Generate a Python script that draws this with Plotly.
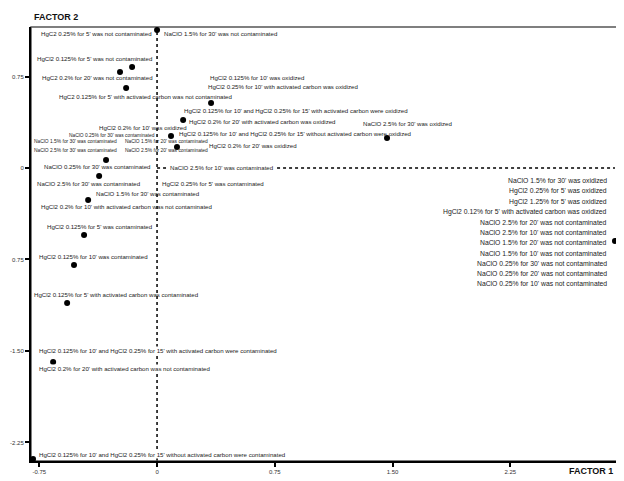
import plotly.graph_objects as go

# ---- data (factor scores) ----
factor1 = [0.0, -0.159, -0.236, -0.197, 0.344, 0.166, 0.089, 0.127, 1.465,
           -0.325, -0.369, -0.439, -0.465, -0.529, -0.573, -0.662, -0.79, 2.917]
factor2 = [1.131, 0.828, 0.787, 0.656, 0.533, 0.393, 0.262, 0.172, 0.246,
           0.066, -0.066, -0.262, -0.549, -0.795, -1.107, -1.59, -2.385, -0.598]

x_tickvals = [-0.75, 0, 0.75, 1.5, 2.25]
x_ticktext = ["-0.75", "0", "0.75", "1.50", "2.25"]
y_tickvals = [0.75, 0, -0.75, -1.5, -2.25]
y_ticktext = ["0.75", "0", "0.75", "-1.50", "-2.25"]

right_group = [
    "NaClO 1.5% for 30' was oxidized",
    "HgCl2 0.25% for 5' was oxidized",
    "HgCl2 1.25% for 5' was oxidized",
    "HgCl2 0.12% for 5' with activated carbon was oxidized",
    "NaClO 2.5% for 20' was not contaminated",
    "NaClO 2.5% for 10' was not contaminated",
    "NaClO 1.5% for 20' was not contaminated",
    "NaClO 1.5% for 10' was not contaminated",
    "NaClO 0.25% for 30' was not contaminated",
    "NaClO 0.25% for 20' was not contaminated",
    "NaClO 0.25% for 10' was not contaminated",
]

# labels: (point index or None for origin, text, xanchor, dx px, dy px (down), small, white-bg pad or None)
labels = [
    (0, "HgC2 0.25% for 5' was not contaminated", "right", -3, 3, False, None),
    (0, "NaClO 1.5% for 30' was not contaminated", "left", 5, 3, False, None),
    (1, "HgCl2 0.125% for 5' was not contaminated", "right", 22, -9, False, None),
    (2, "HgC2 0.2% for 20' was not contaminated", "right", 35, 5, False, None),
    (3, "HgC2 0.125% for 5' with activated carbon was not contaminated", "left", -69, 9, False, None),
    (4, "HgCl2 0.125% for 10' was oxidized", "left", -3, -25, False, None),
    (4, "HgCl2 0.25% for 10' with activated carbon was oxidized", "left", -5, -16, False, None),
    (4, "HgCl2 0.125% for 10' and HgCl2 0.25% for 15' with activated carbon were oxidized", "left", -29, 8, False, None),
    (5, "HgCl2 0.2% for 20' with activated carbon was oxidized", "left", 4, 1, False, None),
    (5, "HgCl2 0.2% for 10' was oxidized", "left", -86, 7, False, None),
    (6, "HgCl2 0.125% for 10' and HgCl2 0.25% for 15' without activated carbon were oxidized", "left", 6, -3, False, None),
    (7, "HgCl2 0.2% for 20' was oxidized", "left", 30, -2, False, None),
    (8, "NaClO 2.5% for 30' was oxidized", "left", -26, -15, False, None),
    (9, "NaClO 0.25% for 30' was contaminated", "left", -64, 7, False, None),
    (None, "NaClO 2.5% for 10' was contaminated", "left", 9, -1, False, 3),
    (None, "HgCl2 0.25% for 5' was contaminated", "left", 3, 15, False, None),
    (None, "NaClO 0.25% for 30' was contaminated", "right", 0, -33, True, None),
    (None, "NaClO 1.5% for 30' was contaminated", "left", -125, -27, True, None),
    (None, "NaClO 2.5% for 30' was contaminated", "left", -125, -18, True, None),
    (None, "NaClO 1.5% for 20' was contaminated", "left", -34, -27, True, None),
    (None, "NaClO 2.5% for 20' was contaminated", "left", -34, -18, True, None),
    (10, "NaClO 2.5% for 30' was contaminated", "left", -64, 7, False, None),
    (11, "NaClO 1.5% for 30' was contaminated", "left", 6, -6, False, None),
    (11, "HgCl2 0.2% for 10' with activated carbon was not contaminated", "left", -49, 7, False, None),
    (12, "HgCl2 0.125% for 5' was contaminated", "left", -39, -8, False, None),
    (13, "HgCl2 0.125% for 10' was contaminated", "left", -37, -8, False, None),
    (14, "HgCl2 0.125% for 5' with activated carbon was contaminated", "left", -35, -9, False, None),
    (15, "HgCl2 0.125% for 10' and HgCl2 0.25% for 15' with activated carbon were contaminated", "left", -15, -11, False, 0),
    (15, "HgCl2 0.2% for 20' with activated carbon was not contaminated", "left", -15, 7, False, 0),
    (16, "HgCl2 0.125% for 10' and HgCl2 0.25% for 15' without activated carbon were contaminated", "left", 5, -4, False, 0),
]

FONT = "Liberation Sans, Arial, sans-serif"
TXT = "#222222"

fig = go.Figure()
fig.add_trace(go.Scatter(
    x=factor1, y=factor2, mode="markers",
    marker=dict(color="black", size=6),
    cliponaxis=False, showlegend=False, hoverinfo="skip",
))

# reference dashed lines through the origin
fig.add_shape(type="line", xref="x", yref="paper", x0=0, x1=0, y0=0, y1=1,
              line=dict(color="black", width=1.5, dash="dot"), layer="below")
fig.add_shape(type="line", xref="x", yref="y", x0=0, x1=max(factor1), y0=0, y1=0,
              line=dict(color="black", width=1.5, dash="dot"), layer="below")
# thin frame top/right
fig.add_shape(type="rect", xref="paper", yref="paper", x0=0, x1=1, y0=0, y1=1,
              line=dict(color="#555555", width=1.5), layer="below")

anns = []
for idx, text, anchor, dx, dy, small, pad in labels:
    if idx is None:
        ax, ay = 0, 0
    else:
        ax, ay = factor1[idx], factor2[idx]
    anns.append(dict(
        x=ax, y=ay, xref="x", yref="y", text=text, showarrow=False,
        xanchor=anchor, yanchor="middle", xshift=dx, yshift=-dy,
        font=dict(family=FONT, size=4.9 if small else 6.1, color=TXT),
        bgcolor="white" if pad is not None else "rgba(0,0,0,0)",
        borderpad=pad if pad is not None else 1,
    ))
for i, text in enumerate(right_group):
    anns.append(dict(
        x=factor1[-1], y=factor2[-1], xref="x", yref="y", text=text, showarrow=False,
        xanchor="right", yanchor="middle", xshift=-6, yshift=60 - 10.3 * i,
        font=dict(family=FONT, size=6.8, color=TXT),
    ))
anns.append(dict(x=0, y=1, xref="paper", yref="paper", text="<b>FACTOR 2</b>",
                 showarrow=False, xanchor="left", yanchor="bottom", xshift=1, yshift=3,
                 font=dict(family=FONT, size=9, color="#111")))
anns.append(dict(x=1, y=0, xref="paper", yref="paper", text="<b>FACTOR 1</b>",
                 showarrow=False, xanchor="right", yanchor="top", xshift=-2, yshift=-3,
                 font=dict(family=FONT, size=9, color="#111")))

fig.update_layout(
    width=616, height=473,
    margin=dict(l=23, r=7, t=19, b=20),
    paper_bgcolor="white", plot_bgcolor="white",
    annotations=anns,
    xaxis=dict(range=[-0.803, 2.930], showgrid=False, zeroline=False, automargin=False,
               showline=True, linecolor="black", linewidth=2,
               ticks="outside", ticklen=4, tickcolor="black", tickwidth=1.5,
               tickvals=x_tickvals, ticktext=x_ticktext,
               tickfont=dict(family=FONT, size=6, color="#333")),
    yaxis=dict(range=[-2.402, 1.156], showgrid=False, zeroline=False, automargin=False,
               showline=True, linecolor="black", linewidth=2,
               ticks="outside", ticklen=4, tickcolor="black", tickwidth=1.5,
               tickvals=y_tickvals, ticktext=y_ticktext,
               tickfont=dict(family=FONT, size=6, color="#333")),
)

fig.write_html("out.html")
